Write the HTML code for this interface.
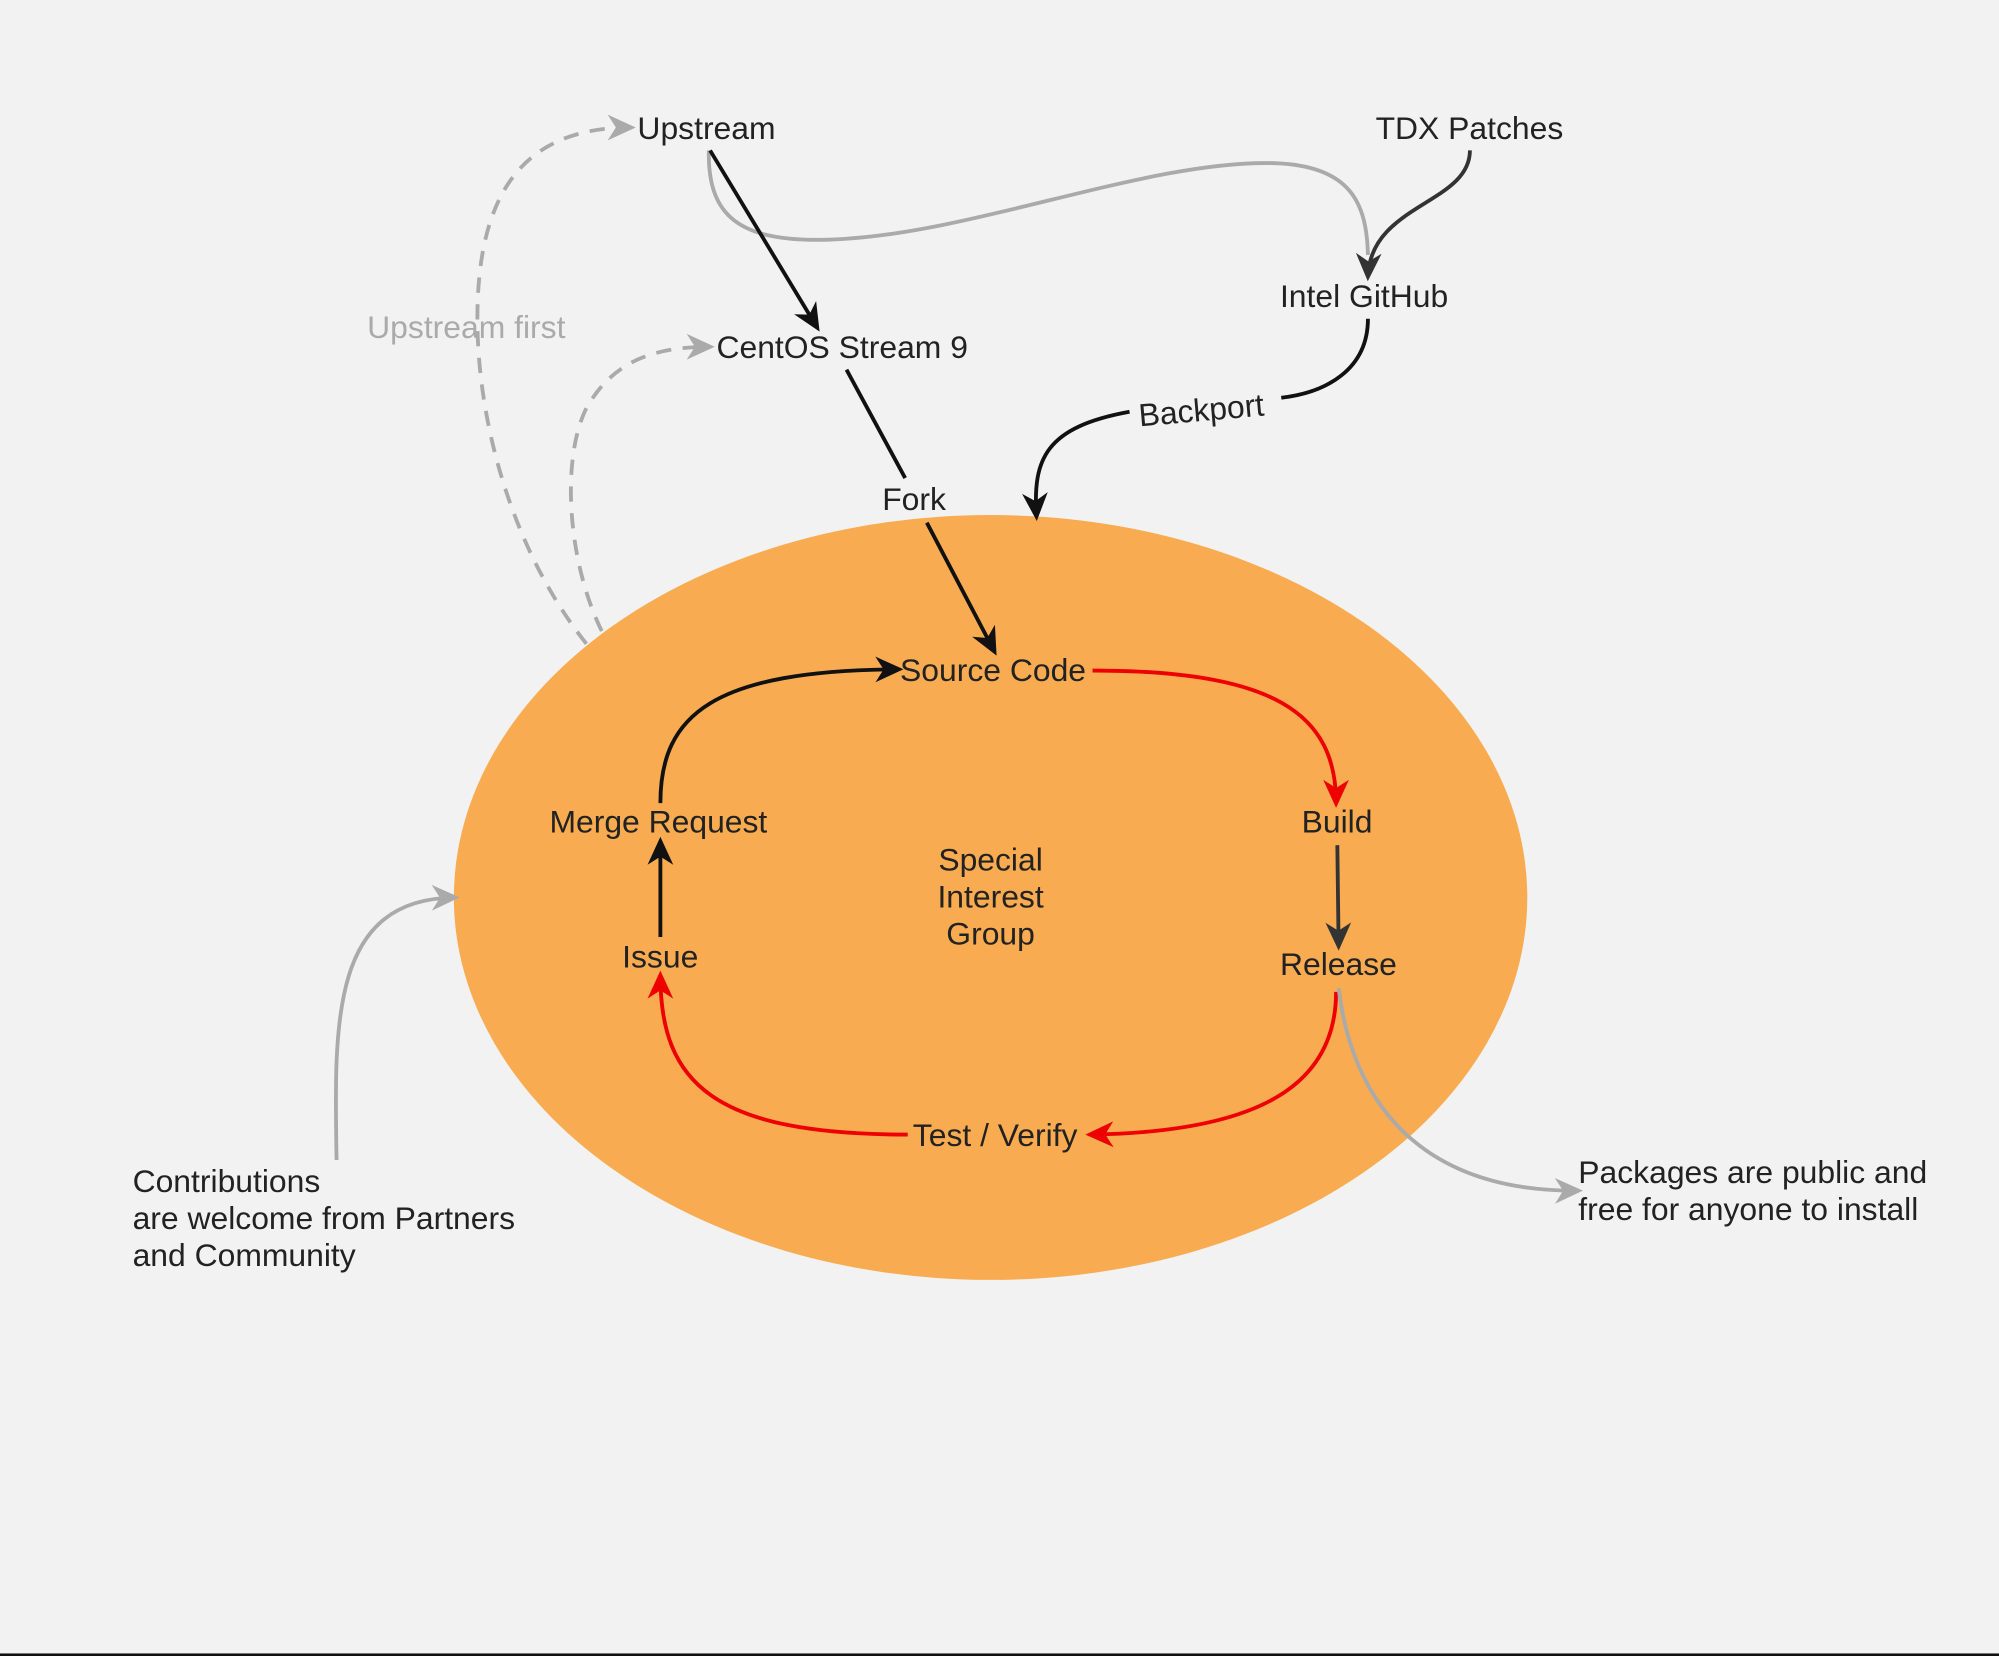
<!DOCTYPE html>
<html><head><meta charset="utf-8"><style>
html,body{margin:0;padding:0;background:#f2f2f2;}
svg{display:block}
text{font-family:"Liberation Sans","DejaVu Sans",sans-serif;font-size:25px;fill:#222;}
</style></head><body>
<svg width="1999" height="1656" viewBox="0 0 1568 1299" preserveAspectRatio="none" xmlns="http://www.w3.org/2000/svg">
<defs>
<marker id="ak" viewBox="0 0 24 24" refX="20" refY="12" markerWidth="22" markerHeight="22" orient="auto" markerUnits="userSpaceOnUse"><path d="M0,1 L24,12 L0,23 L7,12 Z" fill="#111"/></marker>
<marker id="ad" viewBox="0 0 24 24" refX="20" refY="12" markerWidth="22" markerHeight="22" orient="auto" markerUnits="userSpaceOnUse"><path d="M0,1 L24,12 L0,23 L7,12 Z" fill="#333"/></marker>
<marker id="ar" viewBox="0 0 24 24" refX="20" refY="12" markerWidth="22" markerHeight="22" orient="auto" markerUnits="userSpaceOnUse"><path d="M0,1 L24,12 L0,23 L7,12 Z" fill="#e00"/></marker>
<marker id="ag" viewBox="0 0 24 24" refX="20" refY="12" markerWidth="22" markerHeight="22" orient="auto" markerUnits="userSpaceOnUse"><path d="M0,1 L24,12 L0,23 L7,12 Z" fill="#aaa"/></marker>
</defs>
<rect width="1568" height="1299" fill="#f2f2f2"/>
<rect y="1297" width="1568" height="2" fill="#111"/>
<ellipse cx="777" cy="704" rx="421" ry="300" fill="#f8ab50"/>

<path d="M460,505 C400,430 370,320 375,230 C380,140 420,100 495,100" fill="none" stroke="#aaa" stroke-width="3" stroke-dasharray="12,9" marker-end="url(#ag)"/>
<path d="M472,495 C445,440 440,360 460,320 C480,285 510,272 557,272" fill="none" stroke="#aaa" stroke-width="3" stroke-dasharray="12,9" marker-end="url(#ag)"/>
<text x="288" y="265" style="fill:#aaa">Upstream first</text>

<path d="M556,118 C555,170 580,190 650,188 C760,185 900,125 1000,128 C1060,130 1072,160 1073,200" fill="none" stroke="#aaa" stroke-width="3"/>
<path d="M557,118 L641,257" fill="none" stroke="#111" stroke-width="3" marker-end="url(#ak)"/>
<path d="M1153,118 C1153,160 1075,160 1073,217" fill="none" stroke="#333" stroke-width="3" marker-end="url(#ad)"/>
<path d="M1073,250 C1073,290 1040,308 1005,312" fill="none" stroke="#111" stroke-width="3"/>
<path d="M886,323 C820,335 810,360 813,405" fill="none" stroke="#111" stroke-width="3" marker-end="url(#ak)"/>
<text x="893" y="330" transform="rotate(-5 945 322)">Backport</text>
<path d="M664,290 L710,375" fill="none" stroke="#111" stroke-width="3"/>
<path d="M727,410 L780,511" fill="none" stroke="#111" stroke-width="3" marker-end="url(#ak)"/>
<text x="692" y="400">Fork</text>

<path d="M857,526 C1000,526 1048,560 1048,630" fill="none" stroke="#e00" stroke-width="3" marker-end="url(#ar)"/>
<path d="M1049,663 L1050,742" fill="none" stroke="#333" stroke-width="3" marker-end="url(#ad)"/>
<path d="M1048,778 C1048,850 990,888 855,890" fill="none" stroke="#e00" stroke-width="3" marker-end="url(#ar)"/>
<path d="M712,890 C560,890 518,850 518,765" fill="none" stroke="#e00" stroke-width="3" marker-end="url(#ar)"/>
<path d="M518,735 L518,660" fill="none" stroke="#111" stroke-width="3" marker-end="url(#ak)"/>
<path d="M518,630 C518,560 560,526 705,525" fill="none" stroke="#111" stroke-width="3" marker-end="url(#ak)"/>

<path d="M264,910 C262,800 260,705 357,704" fill="none" stroke="#aaa" stroke-width="3" marker-end="url(#ag)"/>
<path d="M1050,775 C1060,860 1110,935 1238,934" fill="none" stroke="#aaa" stroke-width="3" marker-end="url(#ag)"/>

<text x="500" y="109">Upstream</text>
<text x="1079" y="109">TDX Patches</text>
<text x="1004" y="241">Intel GitHub</text>
<text x="562" y="281">CentOS Stream 9</text>
<text x="706" y="534">Source Code</text>
<text x="1021" y="653">Build</text>
<text x="1004" y="765">Release</text>
<text x="716" y="899">Test / Verify</text>
<text x="488" y="759">Issue</text>
<text x="431" y="653">Merge Request</text>
<text x="777" y="683" text-anchor="middle">Special</text>
<text x="777" y="712" text-anchor="middle">Interest</text>
<text x="777" y="741" text-anchor="middle">Group</text>
<text x="104" y="935">Contributions</text>
<text x="104" y="964">are welcome from Partners</text>
<text x="104" y="993">and Community</text>
<text x="1238" y="928">Packages are public and</text>
<text x="1238" y="957">free for anyone to install</text>
</svg>
</body></html>
